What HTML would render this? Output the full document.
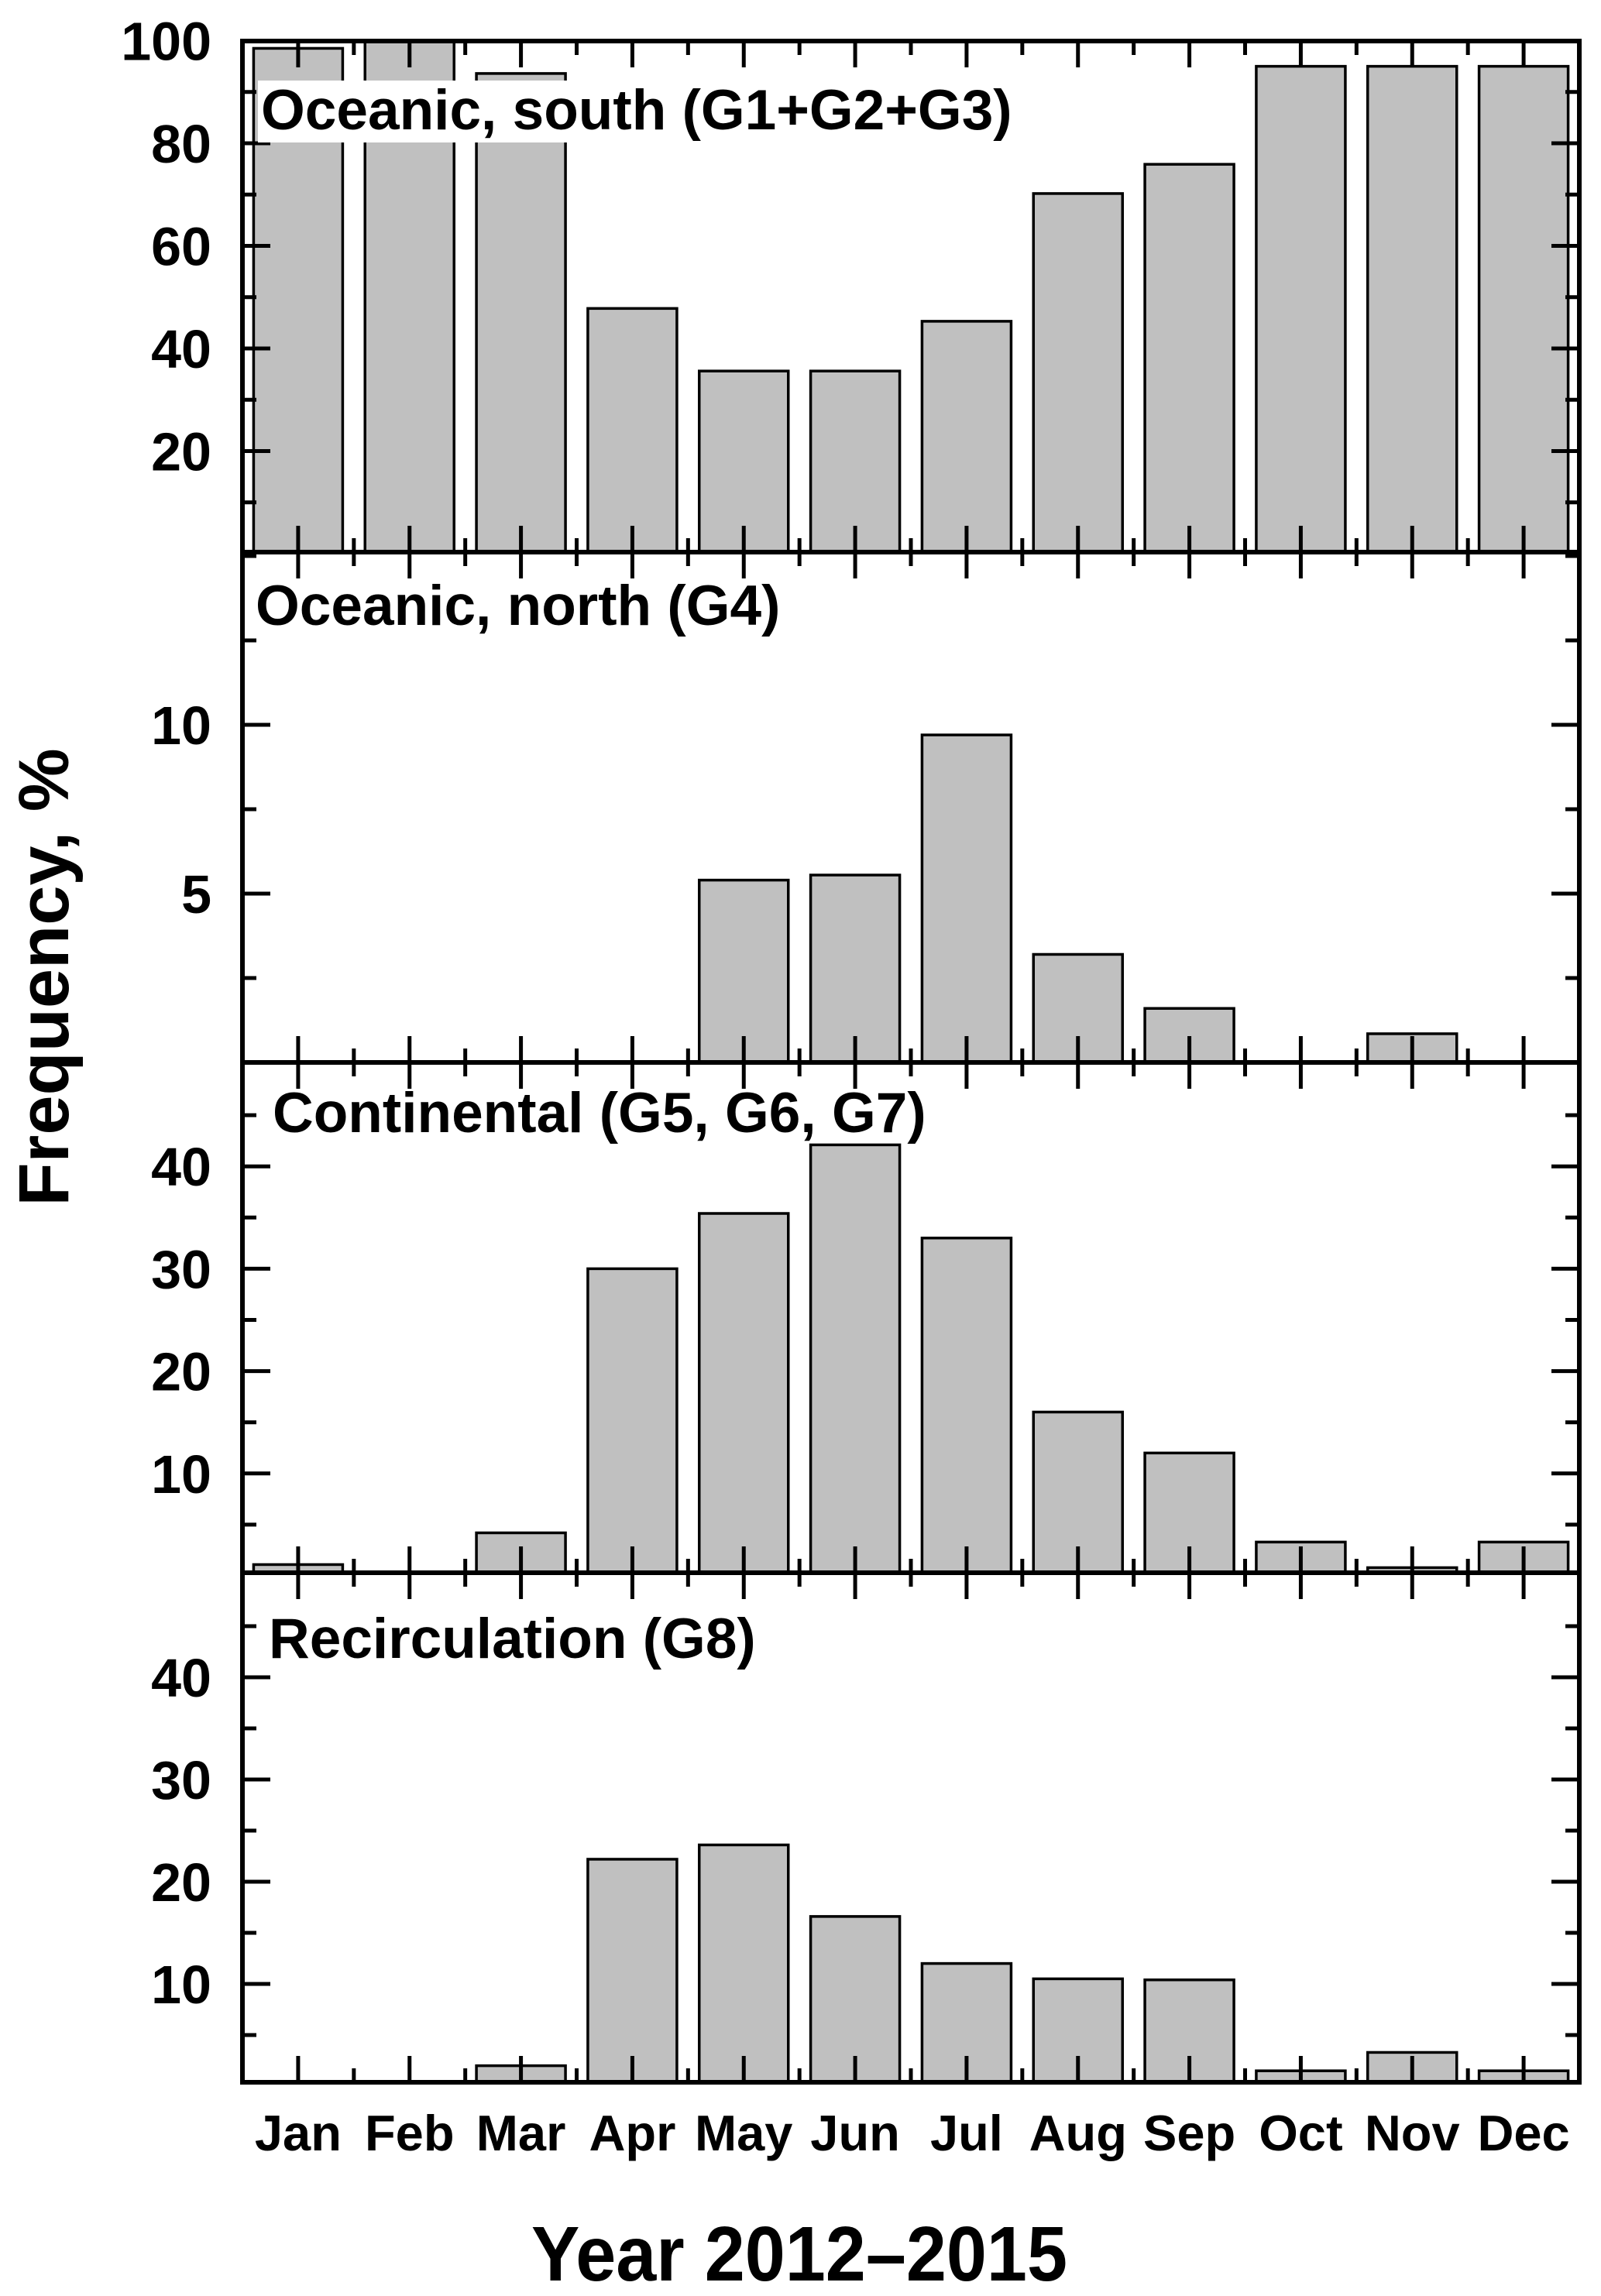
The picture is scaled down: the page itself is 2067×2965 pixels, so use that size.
<!DOCTYPE html>
<html><head><meta charset="utf-8"><style>
html,body{margin:0;padding:0;background:#fff}
svg{display:block}
text{font-family:"Liberation Sans",Arial,sans-serif;font-weight:bold;fill:#000}
</style></head><body>
<svg id="chart" width="2067" height="2965" viewBox="0 0 2067 2965" xmlns="http://www.w3.org/2000/svg">
<text x="0" y="0" font-size="92" text-anchor="middle" transform="translate(88,1262) rotate(-90)">Frequency, %</text>
<text x="1032" y="2945" font-size="100" text-anchor="middle" textLength="692" lengthAdjust="spacingAndGlyphs">Year 2012–2015</text>
</svg>
<script>
const months = ["Jan","Feb","Mar","Apr","May","Jun","Jul","Aug","Sep","Oct","Nov","Dec"];
const southValues = [98.5, 101, 93.6, 47.8, 35.6, 35.6, 45.3, 70.2, 75.9, 95, 95, 95];
const northValues = [0, 0, 0, 0, 5.4, 5.55, 9.7, 3.2, 1.6, 0, 0.85, 0];
const continentalValues = [1.1, 0, 4.2, 30, 35.4, 42.1, 33, 16, 12, 3.3, 0.8, 3.3];
const recirculationValues = [0, 0, 2.0, 22.2, 23.6, 16.6, 12, 10.5, 10.4, 1.5, 3.3, 1.5];
const southTicks = [20, 40, 60, 80, 100];
const northTicks = [5, 10];
const continentalTicks = [10, 20, 30, 40];
const recirculationTicks = [10, 20, 30, 40];
const panelTitles = ["Oceanic, south (G1+G2+G3)", "Oceanic, north (G4)", "Continental (G5, G6, G7)", "Recirculation (G8)"];

const svg = document.getElementById('chart');
const NS = 'http://www.w3.org/2000/svg';
const X0 = 313, X1 = 2039;
const step = (X1 - X0) / months.length;
function xCenter(i){ return X0 + step * (i + 0.5); }
function mk(tag, attrs){ const e = document.createElementNS(NS, tag); for (const k in attrs) e.setAttribute(k, attrs[k]); svg.appendChild(e); return e; }

const panels = [
  {name:'south', top:53, bottom:713, zeroY:715, max:100, min:0, vals:southValues, ticks:southTicks, minor:10, tx:337, ty:167, box:[333,104,974,80]},
  {name:'north', top:713, bottom:1372, zeroY:1372, max:15.1, min:0, vals:northValues, ticks:northTicks, minor:2.5, tx:330, ty:807},
  {name:'continental', top:1372, bottom:2031, zeroY:2035, max:47, min:0, vals:continentalValues, ticks:continentalTicks, minor:5, tx:352, ty:1462},
  {name:'recirculation', top:2031, bottom:2689, zeroY:2694, max:47, min:0, vals:recirculationValues, ticks:recirculationTicks, minor:5, tx:347, ty:2141}
];
panels[0].scale = 132.5/20; panels[1].scale = 218/5; panels[2].scale = 132.2/10; panels[3].scale = 132/10;

panels.forEach((p, pi) => {
  const y = v => p.zeroY - v * p.scale;
  const clip = mk('clipPath', {id:'clip'+pi});
  const cr = document.createElementNS(NS,'rect');
  cr.setAttribute('x', X0); cr.setAttribute('y', p.top); cr.setAttribute('width', X1-X0); cr.setAttribute('height', p.bottom-p.top);
  clip.appendChild(cr);
  const g = mk('g', {'clip-path':'url(#clip'+pi+')'});
  
  
  p.vals.forEach((v, i) => {
    if (v <= 0) return;
    const r = document.createElementNS(NS, 'rect');
    const yt = Math.max(y(v), p.top - 10);
    r.setAttribute('x', xCenter(i) - 57.5);
    r.setAttribute('y', yt);
    r.setAttribute('width', 115);
    r.setAttribute('height', p.bottom - yt);
    r.setAttribute('fill', '#c0c0c0');
    r.setAttribute('stroke', '#000');
    r.setAttribute('stroke-width', '3.5');
    
    
    g.appendChild(r);
  });
  for (let i = 0; i < months.length; i++) {
    const xc = xCenter(i), xm = X0 + step * (i + 1);
    mk('line', {x1:xc, x2:xc, y1:p.bottom, y2:p.bottom-34, stroke:'#000','stroke-width':5});
    mk('line', {x1:xc, x2:xc, y1:p.top, y2:p.top+34, stroke:'#000','stroke-width':5});
    if (i < months.length - 1) {
      mk('line', {x1:xm, x2:xm, y1:p.bottom, y2:p.bottom-18, stroke:'#000','stroke-width':5});
      mk('line', {x1:xm, x2:xm, y1:p.top, y2:p.top+18, stroke:'#000','stroke-width':5});
    }
  }
  for (let v = p.minor; v < p.max; v += p.minor) {
    const yy = y(v);
    if (yy <= p.top + 2 || yy >= p.bottom - 2) continue;
    const major = p.ticks.some(t => Math.abs(t - v) < 1e-6);
    const len = major ? 36 : 18;
    mk('line', {x1:X0, x2:X0+len, y1:yy, y2:yy, stroke:'#000','stroke-width':5});
    mk('line', {x1:X1, x2:X1-len, y1:yy, y2:yy, stroke:'#000','stroke-width':5});
  }
  p.ticks.forEach(t => {
    const lbl = mk('text', {x:273, y:y(t)+25, 'font-size':70, 'text-anchor':'end'});
    lbl.textContent = t;
    
    
  });
  if (p.box) mk('rect', {x:p.box[0], y:p.box[1], width:p.box[2], height:p.box[3], fill:'#fff'});
  const title = mk('text', {x:p.tx, y:p.ty, 'font-size':73});
  title.textContent = panelTitles[pi];
  
  
  const frame = mk('rect', {x:X0, y:p.top, width:X1-X0, height:p.bottom-p.top, fill:'none', stroke:'#000', 'stroke-width':6});
  
  
});

months.forEach((m, i) => {
  const t = mk('text', {x:xCenter(i), y:2777, 'font-size':65, 'text-anchor':'middle'});
  t.textContent = m;
  
  
});
</script>
</body></html>
